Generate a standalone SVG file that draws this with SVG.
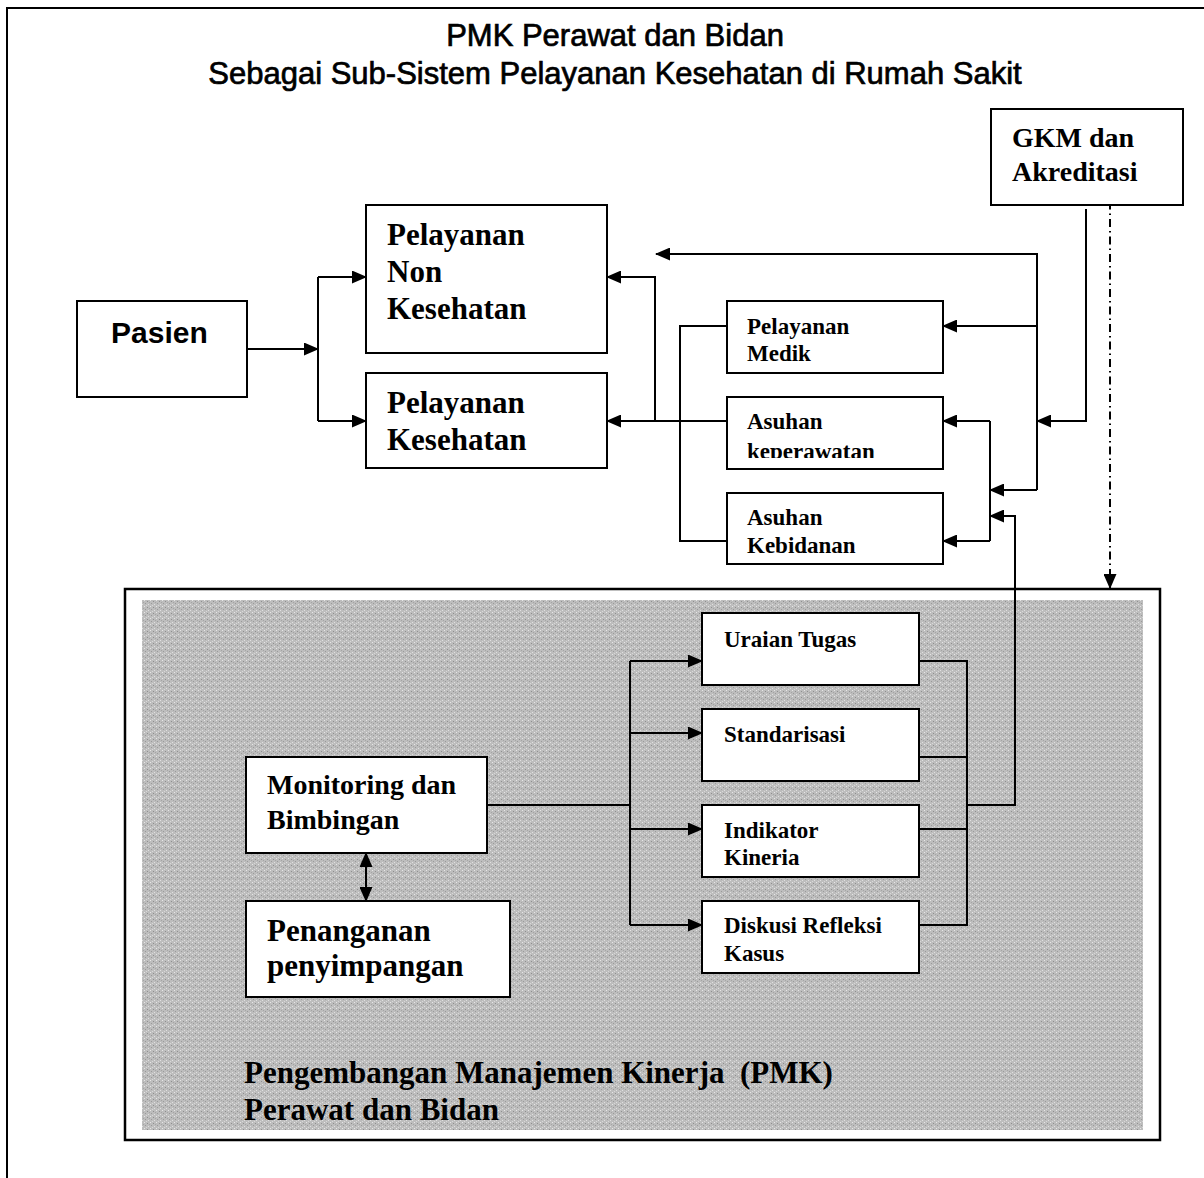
<svg xmlns="http://www.w3.org/2000/svg" width="1204" height="1178" viewBox="0 0 1204 1178">
<style>
.box{fill:#fff;stroke:#000;stroke-width:2}
.ln{fill:none;stroke:#000;stroke-width:2}
.t{font-family:"Liberation Serif","Times New Roman",serif;font-weight:bold;fill:#000}
.s{font-family:"Liberation Sans",Arial,sans-serif;fill:#000}
.ttl{stroke:#000;stroke-width:0.7}
</style>
<defs>
<marker id="arr" markerUnits="userSpaceOnUse" markerWidth="15" markerHeight="13" refX="14" refY="6.5" orient="auto-start-reverse">
<path d="M0,0 L15,6.5 L0,13 z" fill="#000"/>
</marker>
<pattern id="tex" width="6" height="6" patternUnits="userSpaceOnUse">
<rect width="6" height="6" fill="#bdbdbd"/>
<rect x="0" y="0" width="1" height="1" fill="#e6e6e6"/>
<rect x="3" y="1" width="1" height="1" fill="#8f8f8f"/>
<rect x="1" y="3" width="1" height="1" fill="#9a9a9a"/>
<rect x="4" y="4" width="1" height="1" fill="#e0e0e0"/>
<rect x="2" y="5" width="1" height="1" fill="#d8d8d8"/>
<rect x="5" y="2" width="1" height="1" fill="#a5a5a5"/>
</pattern>
<clipPath id="clipKep"><rect x="727" y="397" width="216" height="61"/></clipPath>
</defs>

<path class="ln" d="M7,1178 V8 H1204"/>

<g id="title">
<text class="s ttl" x="615" y="46" font-size="31" text-anchor="middle">PMK Perawat dan Bidan</text>
<text class="s ttl" x="615" y="84" font-size="31" text-anchor="middle">Sebagai Sub-Sistem Pelayanan Kesehatan di Rumah Sakit</text>
</g>

<g id="pmk-frame">
<rect x="125" y="589" width="1035" height="551" fill="#fff" stroke="#000" stroke-width="2.5"/>
<rect x="142" y="600" width="1001" height="530" fill="url(#tex)"/>
<text class="t" x="244" y="1083" font-size="31" style="white-space:pre">Pengembangan Manajemen Kinerja  (PMK)</text>
<text class="t" x="244" y="1120" font-size="31">Perawat dan Bidan</text>
</g>

<g id="connectors">
<path class="ln" d="M247,349 H318" marker-end="url(#arr)"/>
<path class="ln" d="M318,277 V421"/>
<path class="ln" d="M318,277 H366" marker-end="url(#arr)"/>
<path class="ln" d="M318,421 H366" marker-end="url(#arr)"/>
<path class="ln" d="M727,421 H607" marker-end="url(#arr)"/>
<path class="ln" d="M655,421 V277 H607" marker-end="url(#arr)"/>
<path class="ln" d="M1037,490 V254 H656" marker-end="url(#arr)"/>
<path class="ln" d="M1037,326 H943" marker-end="url(#arr)"/>
<path class="ln" d="M1037,490 H990" marker-end="url(#arr)"/>
<path class="ln" d="M1086,209 V421 H1037" marker-end="url(#arr)"/>
<path class="ln" d="M990,421 V541"/>
<path class="ln" d="M990,421 H943" marker-end="url(#arr)"/>
<path class="ln" d="M990,541 H943" marker-end="url(#arr)"/>
<path class="ln" d="M967,805 H1015 V516 H990" marker-end="url(#arr)"/>
<path class="ln" d="M727,326 H680 V541 H727"/>
<path class="ln" d="M1110,184 V588" stroke-width="2.5" stroke-dasharray="8,4,1.5,4" marker-start="url(#arr)" marker-end="url(#arr)"/>
<path class="ln" d="M487,805 H630"/>
<path class="ln" d="M630,661 V925"/>
<path class="ln" d="M630,661 H702" marker-end="url(#arr)"/>
<path class="ln" d="M630,733 H702" marker-end="url(#arr)"/>
<path class="ln" d="M630,829 H702" marker-end="url(#arr)"/>
<path class="ln" d="M630,925 H702" marker-end="url(#arr)"/>
<path class="ln" d="M919,661 H967 V925 H919"/>
<path class="ln" d="M919,757 H967"/>
<path class="ln" d="M919,829 H967"/>
<path class="ln" d="M366,853 V901" marker-start="url(#arr)" marker-end="url(#arr)"/>
</g>

<g id="gkm">
<rect class="box" x="991" y="109" width="192" height="96"/>
<text class="t" x="1012" y="147" font-size="28">GKM dan</text>
<text class="t" x="1012" y="181" font-size="28">Akreditasi</text>
</g>

<g id="pasien">
<rect class="box" x="77" y="301" width="170" height="96"/>
<text class="s" x="111" y="343" font-size="30" font-weight="bold">Pasien</text>
</g>

<g id="pelayanan-non-kesehatan">
<rect class="box" x="366" y="205" width="241" height="148"/>
<text class="t" x="387" y="245" font-size="31">Pelayanan</text>
<text class="t" x="387" y="282" font-size="31">Non</text>
<text class="t" x="387" y="319" font-size="31">Kesehatan</text>
</g>

<g id="pelayanan-kesehatan">
<rect class="box" x="366" y="373" width="241" height="95"/>
<text class="t" x="387" y="413" font-size="31">Pelayanan</text>
<text class="t" x="387" y="450" font-size="31">Kesehatan</text>
</g>

<g id="pelayanan-medik">
<rect class="box" x="727" y="301" width="216" height="72"/>
<text class="t" x="747" y="334" font-size="23">Pelayanan</text>
<text class="t" x="747" y="361" font-size="23">Medik</text>
</g>

<g id="asuhan-keperawatan">
<rect class="box" x="727" y="397" width="216" height="72"/>
<text class="t" x="747" y="429" font-size="23">Asuhan</text>
<text class="t" x="747" y="459" font-size="23" clip-path="url(#clipKep)">keperawatan</text>
</g>

<g id="asuhan-kebidanan">
<rect class="box" x="727" y="493" width="216" height="71"/>
<text class="t" x="747" y="525" font-size="23">Asuhan</text>
<text class="t" x="747" y="553" font-size="23">Kebidanan</text>
</g>

<g id="uraian-tugas">
<rect class="box" x="702" y="613" width="217" height="72"/>
<text class="t" x="724" y="647" font-size="23">Uraian Tugas</text>
</g>

<g id="standarisasi">
<rect class="box" x="702" y="709" width="217" height="72"/>
<text class="t" x="724" y="742" font-size="23">Standarisasi</text>
</g>

<g id="indikator-kineria">
<rect class="box" x="702" y="805" width="217" height="72"/>
<text class="t" x="724" y="838" font-size="23">Indikator</text>
<text class="t" x="724" y="865" font-size="23">Kineria</text>
</g>

<g id="diskusi-refleksi-kasus">
<rect class="box" x="702" y="901" width="217" height="72"/>
<text class="t" x="724" y="933" font-size="23">Diskusi Refleksi</text>
<text class="t" x="724" y="961" font-size="23">Kasus</text>
</g>

<g id="monitoring">
<rect class="box" x="246" y="757" width="241" height="96"/>
<text class="t" x="267" y="794" font-size="28">Monitoring dan</text>
<text class="t" x="267" y="829" font-size="28">Bimbingan</text>
</g>

<g id="penanganan">
<rect class="box" x="246" y="901" width="264" height="96"/>
<text class="t" x="267" y="941" font-size="31">Penanganan</text>
<text class="t" x="267" y="976" font-size="31">penyimpangan</text>
</g>
</svg>
